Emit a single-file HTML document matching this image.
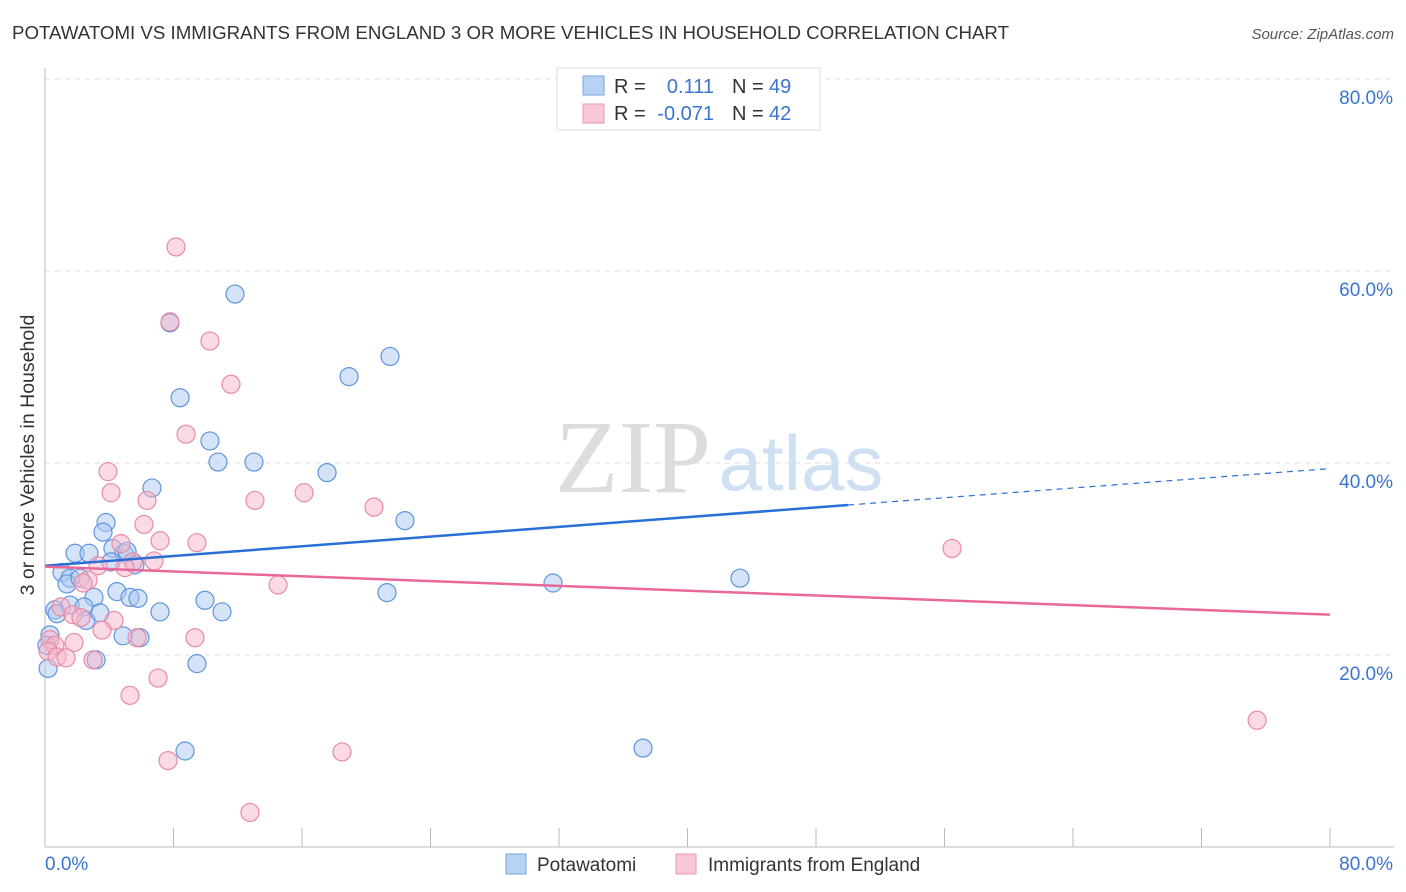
<!DOCTYPE html>
<html><head><meta charset="utf-8"><style>
body{margin:0;background:#fff;font-family:"Liberation Sans",sans-serif}
svg{display:block}
</style></head><body>
<svg id="chart" width="1406" height="892">
<text x="12" y="39" font-size="18.6" fill="#333" textLength="997" lengthAdjust="spacingAndGlyphs">POTAWATOMI VS IMMIGRANTS FROM ENGLAND 3 OR MORE VEHICLES IN HOUSEHOLD CORRELATION CHART</text>
<text x="1394" y="39" font-size="15" fill="#555" text-anchor="end" font-style="italic">Source: ZipAtlas.com</text>
<g>
<text x="633" y="492" font-size="104" fill="#ddd" text-anchor="middle" font-family="Liberation Serif,serif">ZIP</text>
<text x="801" y="490" font-size="78" fill="#cfe0f3" text-anchor="middle">atlas</text>
</g>
<g id="grid"></g>
<g id="axes"></g>
<g id="marks"></g>
<text transform="translate(34,455) rotate(-90)" font-size="19.5" fill="#333" text-anchor="middle">3 or more Vehicles in Household</text>
<g>
<rect x="557" y="68" width="263" height="62" fill="#fff" stroke="#ddd"/>
<rect x="583" y="76" width="21" height="19" fill="#b8d2f4" stroke="#7aa7e0"/>
<rect x="583" y="104" width="21" height="19" fill="#f9c7d5" stroke="#ea9ab2"/>
<text x="614" y="93" font-size="20" fill="#333">R =</text>
<text x="714" y="93" font-size="20" fill="#3a73d0" text-anchor="end">0.111</text>
<text x="732" y="93" font-size="20" fill="#333">N =</text>
<text x="769" y="93" font-size="20" fill="#3a73d0">49</text>
<text x="614" y="120" font-size="20" fill="#333">R =</text>
<text x="714" y="120" font-size="20" fill="#3a73d0" text-anchor="end">-0.071</text>
<text x="732" y="120" font-size="20" fill="#333">N =</text>
<text x="769" y="120" font-size="20" fill="#3a73d0">42</text>
</g>
<g>
<rect x="506" y="854" width="20" height="20" fill="#b8d2f4" stroke="#7aa7e0"/>
<text x="537" y="871" font-size="19" fill="#333">Potawatomi</text>
<rect x="676" y="854" width="20" height="20" fill="#f9c7d5" stroke="#ea9ab2"/>
<text x="708" y="871" font-size="19" fill="#333">Immigrants from England</text>
</g>
</svg>
<script>
const yTicks=[20,40,60,80];
const yTickLabels=["20.0%","40.0%","60.0%","80.0%"];
const xTicks=[0,8,16,24,32,40,48,56,64,72,80];
const blueX=[11.83,7.78,21.48,18.93,8.41,10.27,10.77,13.01,17.56,6.66,22.41,3.80,3.61,1.87,2.74,4.23,4.92,5.11,4.11,5.60,1.06,1.56,1.37,2.18,4.48,5.29,5.79,3.05,0.62,0.75,1.56,2.43,2.55,3.42,7.16,9.96,11.02,21.29,31.63,43.27,4.86,5.91,3.18,9.46,0.31,0.19,8.72,37.23,0.12];
const blueY=[57.6,54.6,51.1,49.0,46.8,42.3,40.1,40.1,39.0,37.4,34.0,33.8,32.8,30.6,30.6,31.1,30.6,30.8,29.7,29.4,28.6,28.0,27.4,28.0,26.6,26.0,25.9,26.0,24.7,24.3,25.2,25.0,23.6,24.4,24.5,25.7,24.5,26.5,27.5,28.0,22.0,21.8,19.5,19.1,22.1,18.6,10.0,10.3,21.0];
const pinkX=[8.16,7.78,10.27,11.58,8.78,3.92,4.11,6.35,13.07,16.13,20.48,6.16,7.16,9.46,4.73,5.48,6.79,4.98,3.30,2.68,2.37,14.51,1.00,1.74,2.24,4.30,3.55,1.81,9.34,5.73,0.31,0.62,0.19,0.75,1.31,2.99,7.04,5.29,7.66,18.49,12.76,56.47,75.46];
const pinkY=[62.5,54.7,52.7,48.2,43.0,39.1,36.9,36.1,36.1,36.9,35.4,33.6,31.9,31.7,31.6,29.7,29.8,29.1,29.3,27.8,27.5,27.3,25.0,24.2,23.9,23.6,22.6,21.3,21.8,21.8,21.6,21.0,20.4,19.8,19.7,19.5,17.6,15.8,9.0,9.9,3.6,31.1,13.2];
const blueTrend=[29.3,0.1265]; // intercept, slope
const blueSolidEnd=50;
const pinkTrend=[29.2,-0.0625];
const X=v=>45+v*1285/80, Y=v=>847-v*9.6;
const NS="http://www.w3.org/2000/svg";
function mk(t,a,p){const e=document.createElementNS(NS,t);for(const k in a)e.setAttribute(k,a[k]);p.appendChild(e);return e;}
const grid=document.getElementById('grid'),axes=document.getElementById('axes'),marks=document.getElementById('marks');
yTicks.forEach((t,i)=>{
 const l=mk('line',{x1:45,x2:1394,y1:Y(t),y2:Y(t),stroke:'#ddd','stroke-dasharray':'5,5'},grid);
 
 
 const tx=mk('text',{x:1393,y:Y(t)+25,'font-size':19,fill:'#3a73d0','text-anchor':'end'},axes);
 tx.textContent=yTickLabels[i];
 
 
});
const ax=mk('line',{x1:45,x2:45,y1:68,y2:847,stroke:'#bbb'},axes);


const bx=mk('line',{x1:45,x2:1394,y1:847,y2:847,stroke:'#bbb'},axes);


xTicks.forEach(t=>{const l=mk('line',{x1:X(t),x2:X(t),y1:828,y2:847,stroke:'#bbb'},axes);
 
 });
const x0=mk('text',{x:45,y:870,'font-size':19,fill:'#3a73d0'},axes);x0.textContent='0.0%';


const x1=mk('text',{x:1393,y:870,'font-size':19,fill:'#3a73d0','text-anchor':'end'},axes);x1.textContent='80.0%';


function pts(xs,ys,fill,stroke,name){xs.forEach((x,i)=>{const c=mk('circle',{cx:X(x),cy:Y(ys[i]),r:9,fill:fill,'fill-opacity':0.5,stroke:stroke,'stroke-width':1.2},marks);
 
 });}
pts(blueX,blueY,'#a9c8f2','#5f95dd','potawatomi-point');
pts(pinkX,pinkY,'#f7b5c8','#e88aa6','england-point');
const bl=mk('line',{x1:X(0),y1:Y(blueTrend[0]),x2:X(blueSolidEnd),y2:Y(blueTrend[0]+blueTrend[1]*blueSolidEnd),stroke:'#2a6fd6','stroke-width':2.5},marks);


const bd=mk('line',{x1:X(blueSolidEnd),y1:Y(blueTrend[0]+blueTrend[1]*blueSolidEnd),x2:X(80),y2:Y(blueTrend[0]+blueTrend[1]*80),stroke:'#2a6fd6','stroke-width':1.2,'stroke-dasharray':'6,5'},marks);


const pl=mk('line',{x1:X(0),y1:Y(pinkTrend[0]),x2:X(80),y2:Y(pinkTrend[0]+pinkTrend[1]*80),stroke:'#e8689a','stroke-width':2.5},marks);


</script>
</body></html>
